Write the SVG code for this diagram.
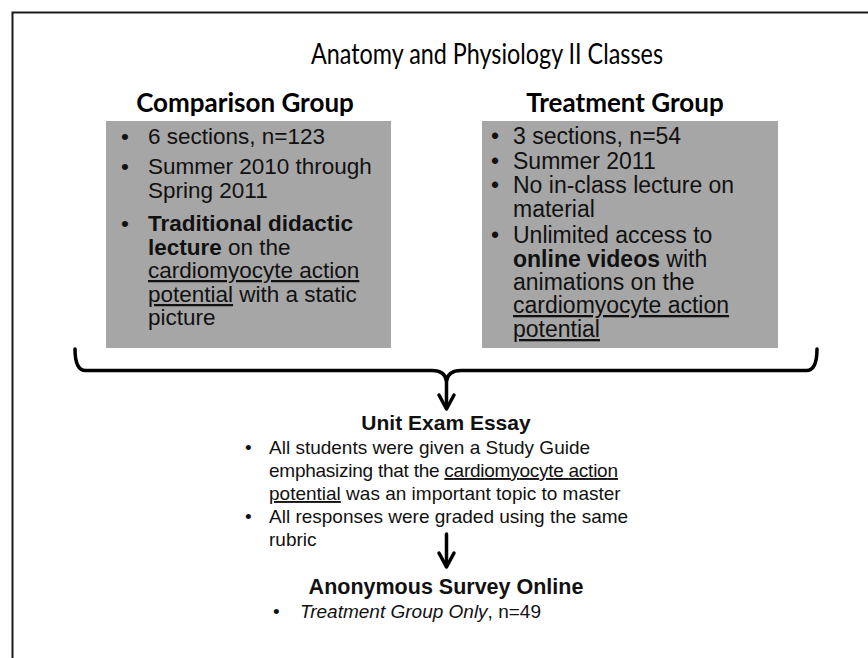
<svg xmlns="http://www.w3.org/2000/svg" width="868" height="658" viewBox="0 0 868 658">
<style>
.cal{font-family:Lato,"Liberation Sans",sans-serif;fill:#000}
.ar{font-family:"Liberation Sans",Arial,sans-serif;fill:#111}
.box{fill:#a6a6a6}
.bxl{font-size:22.5px}
.bxr{font-size:23px}
.bt{font-size:19px}
.b{font-weight:bold}
.u{text-decoration:underline}
.conn{fill:none;stroke:#000;stroke-width:3.5;stroke-linejoin:round;stroke-linecap:round}
</style>
<rect width="868" height="658" fill="#fff"/>
<path d="M12.5,658 V12.5 H868" fill="none" stroke="#1a1a1a" stroke-width="2"/>
<g id="title"><text class="cal" x="487" y="64" font-size="28" text-anchor="middle" textLength="352" lengthAdjust="spacingAndGlyphs">Anatomy and Physiology II Classes</text></g>
<g id="comparison">
<text class="cal b" x="245" y="112" font-size="26" text-anchor="middle">Comparison Group</text>
<rect class="box" x="106" y="121" width="285" height="227"/>
<g class="ar bxl">
<text x="121" y="144">•</text><text x="148" y="144">6 sections, n=123</text>
<text x="121" y="174">•</text><text x="148" y="174">Summer 2010 through</text>
<text x="148" y="198">Spring 2011</text>
<text x="121" y="231">•</text><text x="148" y="231" class="b">Traditional didactic</text>
<text x="148" y="255"><tspan class="b">lecture</tspan> on the</text>
<text x="148" y="278" class="u">cardiomyocyte action</text>
<text x="148" y="302"><tspan class="u">potential</tspan> with a static</text>
<text x="148" y="325">picture</text>
</g>
</g>
<g id="treatment">
<text class="cal b" x="625" y="112" font-size="26" text-anchor="middle">Treatment Group</text>
<rect class="box" x="482" y="121" width="296" height="227"/>
<g class="ar bxr">
<text x="491" y="144">•</text><text x="513" y="144">3 sections, n=54</text>
<text x="491" y="169">•</text><text x="513" y="169">Summer 2011</text>
<text x="491" y="193">•</text><text x="513" y="193">No in-class lecture on</text>
<text x="513" y="217">material</text>
<text x="491" y="243">•</text><text x="513" y="243">Unlimited access to</text>
<text x="513" y="267"><tspan class="b">online videos</tspan> with</text>
<text x="513" y="290">animations on the</text>
<text x="513" y="313" class="u">cardiomyocyte action</text>
<text x="513" y="337" class="u">potential</text>
</g>
</g>
<g id="connectors">
<path class="conn" d="M75,349 Q75,371 86,370.5 L432,370.5 Q445,370.5 446.5,381 Q448,370.5 461,370.5 L806,370.5 Q817,371 817,349"/>
<path class="conn" d="M446.5,380 V408"/>
<path class="conn" d="M439,395 L446.5,409 L454,395"/>
<path class="conn" d="M446.5,534 V566"/>
<path class="conn" d="M439,553 L446.5,567 L454,553"/>
</g>
<g id="unit-exam">
<text class="ar b" x="446" y="430" font-size="21" text-anchor="middle">Unit Exam Essay</text>
<g class="ar bt">
<text x="245" y="454">•</text><text x="269" y="454">All students were given a Study Guide</text>
<text x="269" y="477" textLength="349">emphasizing that the <tspan class="u">cardiomyocyte action</tspan></text>
<text x="269" y="500"><tspan class="u">potential</tspan> was an important topic to master</text>
<text x="245" y="523">•</text><text x="269" y="523">All responses were graded using the same</text>
<text x="269" y="546">rubric</text>
</g>
</g>
<g id="survey">
<text class="ar b" x="446" y="594" font-size="21.5" text-anchor="middle">Anonymous Survey Online</text>
<g class="ar bt">
<text x="273" y="618">•</text><text x="300" y="618"><tspan font-style="italic">Treatment Group Only</tspan>, n=49</text>
</g>
</g>
</svg>
